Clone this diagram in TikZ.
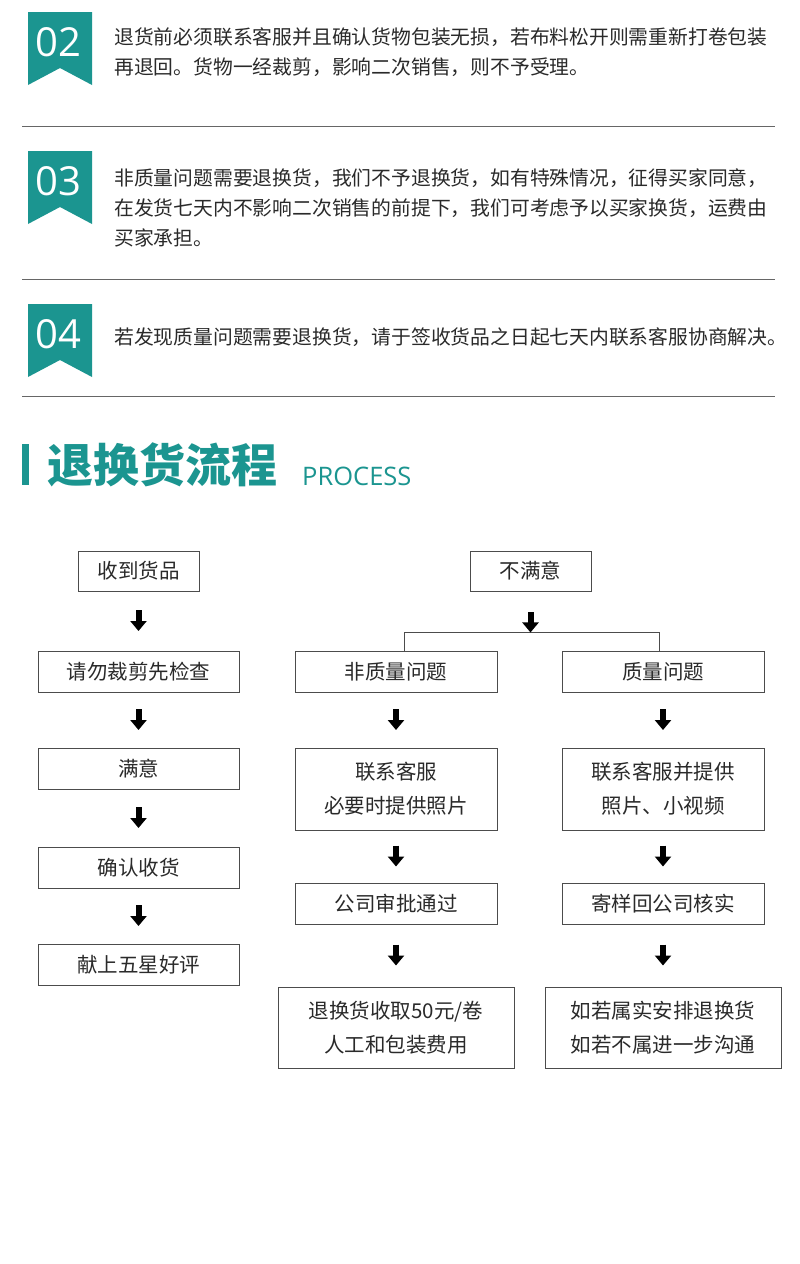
\documentclass[tikz,border=0pt]{standalone}
\usepackage{fontspec}
\setmainfont{Noto Sans CJK SC}
\newfontfamily\numf{Open Sans}
\usetikzlibrary{calc,arrows.meta}
\definecolor{teal1}{HTML}{1B9590}
\definecolor{txt}{HTML}{2A2A2A}
\begin{document}
\begin{tikzpicture}[x=1pt,y=-1pt,
 box/.style={draw=black!70,line width=0.9pt,text=txt,font=\fontsize{20.5}{34}\selectfont,align=center,inner sep=0pt},
 blk/.style={line width=6pt,-{Triangle[width=16pt,length=10pt]}},
 para/.style={anchor=north west,text=txt,font=\fontsize{19.8}{30}\selectfont,align=left,inner sep=0pt},
 sep/.style={draw=black!60,line width=0.8pt}]
\useasboundingbox (0,0) rectangle (800,1264);
\fill[white] (0,0) rectangle (800,1264);
\newcommand\badge[3]{%
 \fill[teal1] (28,#1) -- (92,#1) -- (92,#1+73) -- (60,#1+56) -- (28,#1+73) -- cycle;
 \node[text=white,font=\numf\fontsize{40}{40}\selectfont,inner sep=0pt] (#3) at (58,#1+30) {#2};}
\badge{12}{02}{n2}
\node[para] (p2) at (114,27) {退货前必须联系客服并且确认货物包装无损，若布料松开则需重新打卷包装\\再退回。货物一经裁剪，影响二次销售，则不予受理。};
\draw[sep] (22,126) -- (775,126);
\badge{151}{03}{n3}
\node[para] (p3) at (114,168) {非质量问题需要退换货，我们不予退换货，如有特殊情况，征得买家同意，\\在发货七天内不影响二次销售的前提下，我们可考虑予以买家换货，运费由\\买家承担。};
\draw[sep] (22,279) -- (775,279);
\badge{304}{04}{n4}
\node[para] (p4) at (114,327) {若发现质量问题需要退换货，请于签收货品之日起七天内联系客服协商解决。};
\draw[sep] (22,396) -- (775,396);
\fill[teal1] (22,444) rectangle (29,485);
\node[anchor=west,text=teal1,font=\bfseries\fontsize{46}{46}\selectfont,inner sep=0pt] (t) at (47,465) {退换货流程};
\node[anchor=base west,text=teal1,font=\numf\fontsize{25.5}{25}\selectfont,inner sep=0pt] (pr) at (302,485) {PROCESS};
% left column
\node[box,minimum width=121pt,minimum height=40pt] (a1) at (138.5,571) {收到货品};
\node[box,minimum width=201pt,minimum height=41pt] (a2) at (138.5,671.5) {请勿裁剪先检查};
\node[box,minimum width=201pt,minimum height=41pt] (a3) at (138.5,768.5) {满意};
\node[box,minimum width=201pt,minimum height=41pt] (a4) at (138.5,867.5) {确认收货};
\node[box,minimum width=201pt,minimum height=41pt] (a5) at (138.5,964.5) {献上五星好评};
% middle
\node[box,minimum width=121pt,minimum height=40pt] (b0) at (530.5,571) {不满意};
\node[box,minimum width=202pt,minimum height=41pt] (b1) at (396,671.5) {非质量问题};
\node[box,minimum width=202pt,minimum height=82pt] (b2) at (396,789) {联系客服\\必要时提供照片};
\node[box,minimum width=202pt,minimum height=41pt] (b3) at (396,903.5) {公司审批通过};
\node[box,minimum width=236pt,minimum height=81pt] (b4) at (396,1027.5) {退换货收取50元/卷\\人工和包装费用};
% right
\node[box,minimum width=202pt,minimum height=41pt] (c1) at (663,671.5) {质量问题};
\node[box,minimum width=202pt,minimum height=82pt] (c2) at (663,789) {联系客服并提供\\照片、小视频};
\node[box,minimum width=202pt,minimum height=41pt] (c3) at (663,903.5) {寄样回公司核实};
\node[box,minimum width=236pt,minimum height=81pt] (c4) at (663,1027.5) {如若属实安排退换货\\如若不属进一步沟通};
\newcommand\blkarrow[2]{\draw[blk] ($(#1.south)!0.5!(#2.north)+(0,-11)$) -- ($(#1.south)!0.5!(#2.north)+(0,10)$);}
\blkarrow{a1}{a2}\blkarrow{a2}{a3}\blkarrow{a3}{a4}\blkarrow{a4}{a5}
\blkarrow{b1}{b2}\blkarrow{b2}{b3}\blkarrow{b3}{b4}
\blkarrow{c1}{c2}\blkarrow{c2}{c3}\blkarrow{c3}{c4}
\coordinate (m) at ($(b0.south)+(0,41)$);
\draw[line width=0.9pt,draw=black!70] (b1.north -| 404,0) |- (m) -| (c1.north -| 659,0);
\draw[blk] ($(b0.south)+(0,21)$) -- ($(b0.south)+(0,41)$);
\end{tikzpicture}
\end{document}
